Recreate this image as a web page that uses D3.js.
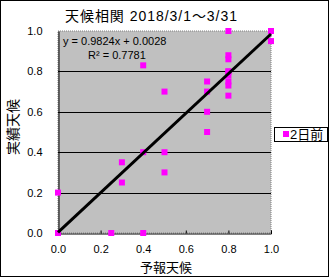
<!DOCTYPE html>
<html>
<head>
<meta charset="utf-8">
<script src="https://cdn.jsdelivr.net/npm/d3@7"></script>
<style>
  body { margin: 0; background: #fff; }
  text { font-family: "Liberation Sans", "Noto Sans CJK JP", sans-serif; fill: #000; }
</style>
</head>
<body>
<div id="chart"></div>
<script>
// 予報天候 (x) vs 実績天候 (y), 2日前
const forecast = [0.8, 1.0, 1.0, 0.4, 0.8, 0.8, 0.8, 0.8, 0.8, 0.8, 0.8, 0.8,
                  0.7, 0.7, 0.7, 0.7, 0.5, 0.4, 0.5, 0.3, 0.5, 0.3, 0.25, 0.4, 0.0, 0.0];
const actual   = [1.0, 1.0, 0.95, 0.83, 0.88, 0.86, 0.8, 0.78, 0.75, 0.73, 0.68, 0.8,
                  0.75, 0.7, 0.6, 0.5, 0.7, 0.4, 0.4, 0.35, 0.3, 0.25, 0.0, 0.0, 0.2, 0.0];
const ticks = [0, 0.2, 0.4, 0.6, 0.8, 1.0];
const slope = 0.9824, intercept = 0.0028, r2 = 0.7781;
const seriesName = "2日前";

const W = 330, H = 278;
const plot = { left: 58, right: 271, top: 31, bottom: 233 };

const svg = d3.select("#chart").append("svg")
  .attr("width", W).attr("height", H);

svg.append("rect")
  .attr("x", 0.5).attr("y", 0.5)
  .attr("width", W - 2).attr("height", H - 2)
  .attr("fill", "#fff").attr("stroke", "#000");

const x = d3.scaleLinear().domain([0, 1]).range([plot.left, plot.right]);
const y = d3.scaleLinear().domain([0, 1]).range([plot.bottom, plot.top]);

// plot area
svg.append("rect")
  .attr("x", plot.left).attr("y", plot.top)
  .attr("width", plot.right - plot.left).attr("height", plot.bottom - plot.top)
  .attr("fill", "#c0c0c0")
  .attr("stroke", "#808080").attr("stroke-dasharray", "1,1");

// gridlines
svg.append("g").selectAll("line")
  .data(ticks.filter(t => t > 0 && t < 1))
  .join("line")
  .attr("x1", plot.left).attr("x2", plot.right)
  .attr("y1", d => Math.round(y(d)) + 0.5).attr("y2", d => Math.round(y(d)) + 0.5)
  .attr("stroke", "#000");

// axes
const yAxis = svg.append("g")
  .attr("transform", `translate(${plot.left + 0.5},0)`)
  .call(d3.axisLeft(y).tickValues(ticks).tickFormat(d3.format(".1f")).tickSize(0).tickPadding(16));
const xAxis = svg.append("g")
  .attr("transform", `translate(0,${plot.bottom + 0.5})`)
  .call(d3.axisBottom(x).tickValues(ticks).tickFormat(d3.format(".1f")).tickSize(-3).tickPadding(12));
[xAxis, yAxis].forEach(a => {
  a.select(".domain").attr("stroke", "#000");
  a.selectAll(".tick line").attr("stroke", "#000");
  a.selectAll("text").attr("font-size", 11).attr("fill", "#000")
    .attr("font-family", "Liberation Sans, sans-serif");
});

// points
svg.append("g").selectAll("rect")
  .data(forecast.map((f, i) => [f, actual[i]]))
  .join("rect")
  .attr("x", d => x(d[0]) - 3).attr("y", d => y(d[1]) - 3)
  .attr("width", 6).attr("height", 6)
  .attr("fill", "#ff00ff");

// trendline
svg.append("line")
  .attr("x1", x(0)).attr("y1", y(intercept))
  .attr("x2", x(1)).attr("y2", y(slope + intercept))
  .attr("stroke", "#000").attr("stroke-width", 3);

// trend label
svg.append("text").attr("x", 63).attr("y", 45).attr("font-size", 11)
  .text(`y = ${slope}x + ${intercept.toFixed(4)}`);
svg.append("text").attr("x", 88).attr("y", 59).attr("font-size", 11)
  .text(`R² = ${r2}`);

// title
svg.append("text").attr("x", 65).attr("y", 21).attr("font-size", 14)
  .attr("textLength", 172).attr("lengthAdjust", "spacing")
  .text("天候相関 2018/3/1～3/31");

// axis titles
svg.append("text").attr("x", 166).attr("y", 272).attr("text-anchor", "middle")
  .attr("font-size", 13).text("予報天候");
svg.append("text")
  .attr("transform", "translate(18,127) rotate(-90)")
  .attr("text-anchor", "middle").attr("font-size", 14).text("実績天候");

// legend
const lg = svg.append("g");
lg.append("rect").attr("x", 274.5).attr("y", 127.5).attr("width", 53).attr("height", 14)
  .attr("fill", "#fff").attr("stroke", "#000");
lg.append("rect").attr("x", 283).attr("y", 131).attr("width", 6).attr("height", 6).attr("fill", "#ff00ff");
lg.append("text").attr("x", 290).attr("y", 139).attr("font-size", 13).text(seriesName);
</script>
</body>
</html>
